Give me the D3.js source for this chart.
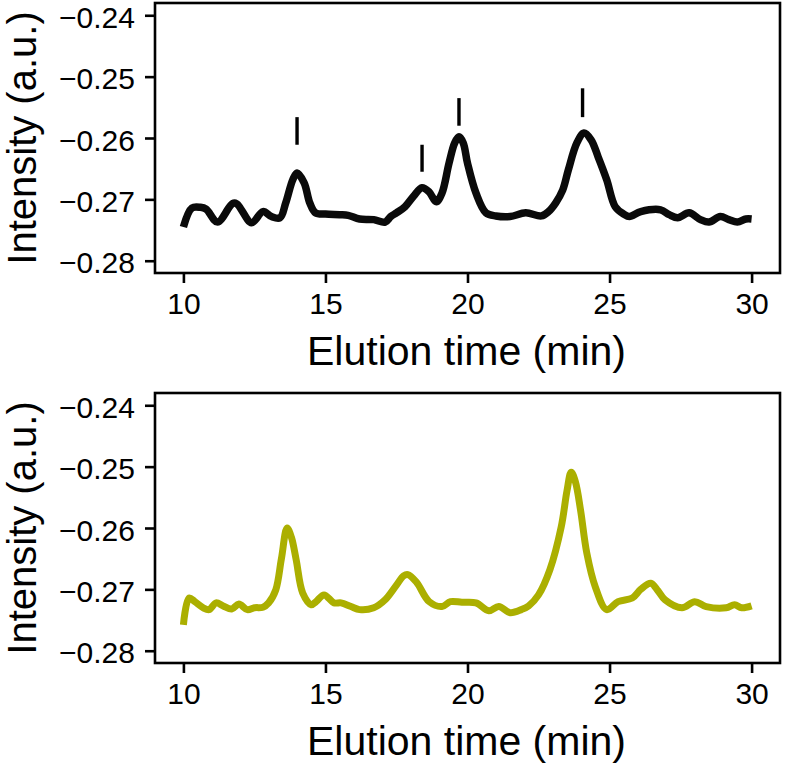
<!DOCTYPE html>
<html>
<head>
<meta charset="utf-8">
<script src="https://cdn.jsdelivr.net/npm/d3@7"></script>
<style>
  html, body { margin: 0; padding: 0; background: #fff; }
  svg { display: block; font-family: "Liberation Sans", Arial, Helvetica, sans-serif; }
</style>
</head>
<body>
<svg id="chart" width="787" height="763"></svg>
<script>
// ---- Data ----
const xTicks = [10, 15, 20, 25, 30];
const yTicks = [-0.24, -0.25, -0.26, -0.27, -0.28];
const xLabel = "Elution time (min)";
const yLabel = "Intensity (a.u.)";

const timesTop = [10.0,10.3,10.6,10.8,11.2,11.8,12.4,12.8,13.1,13.4,13.6,13.85,14.0,14.25,14.45,14.65,15.0,15.5,15.8,16.2,16.7,17.1,17.3,17.5,17.8,18.1,18.4,18.65,18.9,19.1,19.35,19.55,19.7,19.85,20.0,20.3,20.65,21.0,21.5,22.05,22.6,22.85,23.1,23.35,23.55,23.85,24.1,24.35,24.6,24.9,25.2,25.5,25.7,26.1,26.8,27.1,27.4,27.8,28.2,28.5,28.9,29.2,29.5,29.8,30.0];
const valuesTop = [-0.2745,-0.2714,-0.2713,-0.2716,-0.2737,-0.2706,-0.2738,-0.2720,-0.2728,-0.2730,-0.2706,-0.2668,-0.2657,-0.2673,-0.2706,-0.2722,-0.2724,-0.2725,-0.2726,-0.2732,-0.2733,-0.2737,-0.2728,-0.2722,-0.2712,-0.2695,-0.2681,-0.2688,-0.2704,-0.2690,-0.2641,-0.2608,-0.2598,-0.2608,-0.2641,-0.2690,-0.2722,-0.2727,-0.2728,-0.2722,-0.2727,-0.2720,-0.2706,-0.2685,-0.2652,-0.2608,-0.2592,-0.2603,-0.2631,-0.2668,-0.2712,-0.2724,-0.2728,-0.2720,-0.2717,-0.2725,-0.2730,-0.2722,-0.2733,-0.2737,-0.2728,-0.2733,-0.2737,-0.2732,-0.2732];

const markerTimes = [14.0, 18.4, 19.7, 24.05];
const markerTops = [-0.2566, -0.2611, -0.2535, -0.2519];
const markerBottoms = [-0.2611, -0.2655, -0.2580, -0.2566];

const timesBottom = [10.0,10.2,10.4,10.7,10.9,11.15,11.4,11.7,11.95,12.25,12.5,12.8,13.0,13.25,13.45,13.65,13.8,13.97,14.2,14.5,14.67,14.95,15.3,15.55,15.9,16.2,16.7,17.1,17.5,17.75,17.9,18.2,18.65,19.1,19.4,19.8,20.3,20.75,21.1,21.5,21.9,22.15,22.5,22.9,23.3,23.5,23.65,23.8,23.98,24.2,24.5,24.9,25.3,25.8,26.1,26.45,26.7,26.95,27.55,28.0,28.4,29.1,29.4,29.65,30.0];
const valuesBottom = [-0.2758,-0.2714,-0.2720,-0.2730,-0.2733,-0.2722,-0.2727,-0.2732,-0.2724,-0.2733,-0.2730,-0.2729,-0.2722,-0.2701,-0.2650,-0.2600,-0.2615,-0.2652,-0.2706,-0.2725,-0.2720,-0.2709,-0.2722,-0.2722,-0.2728,-0.2733,-0.2730,-0.2717,-0.2693,-0.2678,-0.2676,-0.2688,-0.2720,-0.2728,-0.2720,-0.2721,-0.2722,-0.2735,-0.2728,-0.2738,-0.2733,-0.2727,-0.2709,-0.2668,-0.2598,-0.2540,-0.2509,-0.2525,-0.2571,-0.2641,-0.2696,-0.2733,-0.2720,-0.2714,-0.2700,-0.2690,-0.2702,-0.2717,-0.2730,-0.2720,-0.2728,-0.2730,-0.2725,-0.2730,-0.2727];

// ---- Layout ----
const svg = d3.select("#chart");
const plotLeft = 155, plotRight = 780, plotH = 270;
const panelTops = [3, 393];
const xDomain = [9, 31];
const yDomain = [-0.282, -0.238];

function drawPanel(top, times, values, color, width, markers) {
  const g = svg.append("g");
  const x = d3.scaleLinear().domain(xDomain).range([plotLeft, plotRight]);
  const y = d3.scaleLinear().domain(yDomain).range([top + plotH, top]);

  // line
  const pts = times.map((t, i) => [t, values[i]]);
  const line = d3.line().x(d => x(d[0])).y(d => y(d[1])).curve(d3.curveCatmullRom.alpha(0.5));
  g.append("path").datum(pts)
    .attr("d", line)
    .attr("fill", "none")
    .attr("stroke", color)
    .attr("stroke-width", width)
    .attr("stroke-linejoin", "round")
    .attr("stroke-linecap", "butt");

  // peak markers
  if (markers) {
    g.selectAll("line.marker").data(markers.t)
      .enter().append("line")
      .attr("class", "marker")
      .attr("x1", d => x(d)).attr("x2", d => x(d))
      .attr("y1", (d, i) => y(markers.top[i]))
      .attr("y2", (d, i) => y(markers.bottom[i]))
      .attr("stroke", "#000").attr("stroke-width", 3.4);
  }

  // frame
  g.append("rect")
    .attr("x", plotLeft).attr("y", top)
    .attr("width", plotRight - plotLeft).attr("height", plotH)
    .attr("fill", "none").attr("stroke", "#000").attr("stroke-width", 2.6);

  // axes
  const xAxis = d3.axisBottom(x).tickValues(xTicks).tickSize(10).tickPadding(10).tickFormat(d3.format("d"));
  const gx = g.append("g").attr("transform", `translate(0,${top + plotH})`).call(xAxis);
  gx.select(".domain").remove();
  gx.selectAll(".tick line").attr("stroke", "#000").attr("stroke-width", 2.6);
  gx.selectAll(".tick text").attr("font-size", 30).attr("fill", "#000").attr("font-family", "Liberation Sans, Arial, sans-serif");

  const yAxis = d3.axisLeft(y).tickValues(yTicks).tickSize(10).tickPadding(10).tickFormat(d3.format(".2f"));
  const gy = g.append("g").attr("transform", `translate(${plotLeft},0)`).call(yAxis);
  gy.select(".domain").remove();
  gy.selectAll(".tick line").attr("stroke", "#000").attr("stroke-width", 2.6);
  gy.selectAll(".tick text").attr("font-size", 30).attr("dy", "0.4em").attr("fill", "#000").attr("font-family", "Liberation Sans, Arial, sans-serif");

  // titles
  g.append("text")
    .attr("x", (plotLeft + plotRight) / 2 - 1)
    .attr("y", top + plotH + 92)
    .attr("text-anchor", "middle")
    .attr("font-size", 41)
    .attr("fill", "#000")
    .text(xLabel);

  g.append("text")
    .attr("transform", `translate(36,${top + plotH / 2}) rotate(-90)`)
    .attr("text-anchor", "middle")
    .attr("font-size", 40)
    .attr("fill", "#000")
    .text(yLabel);
}

drawPanel(panelTops[0], timesTop, valuesTop, "#0a0a0a", 7.5, {t: markerTimes, top: markerTops, bottom: markerBottoms});
drawPanel(panelTops[1], timesBottom, valuesBottom, "#abaf00", 7, null);
</script>
</body>
</html>
